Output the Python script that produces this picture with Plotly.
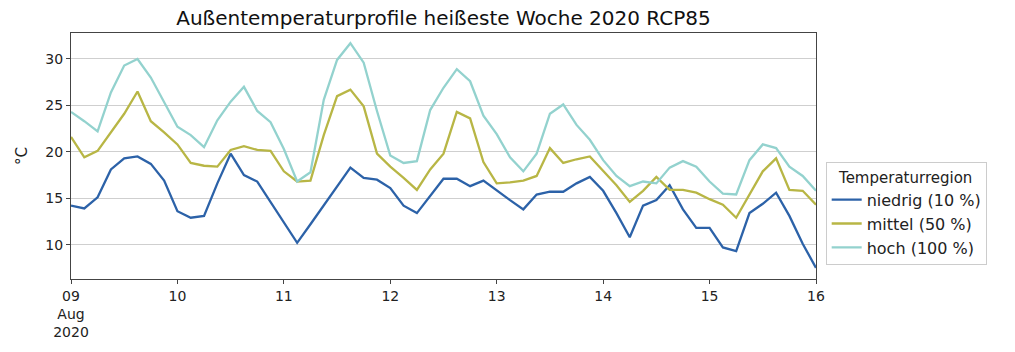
import plotly.graph_objects as go
import pandas as pd

times = pd.date_range("2020-08-09 00:00", "2020-08-16 00:00", freq="3h")

niedrig = [14.2, 13.9, 15.1, 18.1, 19.3, 19.5, 18.7, 16.9, 13.6, 12.9, 13.1, 16.6, 19.8, 17.5, 16.8,
           14.6, 12.4, 10.2, 12.2, 14.2, 16.2, 18.3, 17.2, 17.0, 16.1, 14.2, 13.4, 15.3, 17.1,
           17.1, 16.3, 16.9, 15.8, 14.8, 13.8, 15.4, 15.7, 15.7, 16.6, 17.3, 15.8, 13.4, 10.8,
           14.2, 14.8, 16.4, 13.8, 11.8, 11.8, 9.7, 9.3, 13.4, 14.4, 15.6, 13.1, 10.1, 7.5]
mittel = [21.6, 19.4, 20.1, 22.1, 24.1, 26.5, 23.3, 22.1, 20.8, 18.8, 18.5, 18.4, 20.2, 20.6, 20.2,
          20.1, 17.9, 16.8, 16.9, 21.8, 26.0, 26.7, 24.9, 19.8, 18.4, 17.2, 15.9, 18.1, 19.8,
          24.3, 23.6, 18.9, 16.6, 16.7, 16.9, 17.4, 20.4, 18.8, 19.2, 19.5, 17.9, 16.4, 14.6,
          15.8, 17.3, 15.9, 15.9, 15.6, 14.9, 14.3, 12.9, 15.4, 17.9, 19.3, 15.9, 15.8, 14.3]
hoch = [24.3, 23.3, 22.2, 26.4, 29.3, 30.0, 28.0, 25.3, 22.7, 21.8, 20.5, 23.4, 25.4, 27.0, 24.4,
        23.2, 20.3, 16.8, 17.8, 25.6, 29.9, 31.7, 29.6, 24.4, 19.6, 18.8, 19.0, 24.5, 26.9,
        28.9, 27.6, 23.9, 21.9, 19.4, 17.9, 19.8, 24.1, 25.1, 22.9, 21.3, 19.1, 17.4, 16.3,
        16.8, 16.6, 18.3, 19.0, 18.4, 16.8, 15.5, 15.4, 19.1, 20.8, 20.4, 18.4, 17.4, 15.8]

series = [("niedrig (10 %)", niedrig, "#2c62a8"),
          ("mittel (50 %)", mittel, "#b8b645"),
          ("hoch (100 %)", hoch, "#93d2ce")]

y_ticks = [10, 15, 20, 25, 30]
x_tick_vals = pd.date_range("2020-08-09", "2020-08-16", freq="D")
x_tick_text = ["09<br>Aug<br>2020", "10", "11", "12", "13", "14", "15", "16"]

fig = go.Figure()
for name, vals, col in series:
    fig.add_trace(go.Scatter(x=times, y=vals, mode="lines", name=name,
                             line=dict(color=col, width=2.3)))

font = "DejaVu Sans, Verdana, sans-serif"
fig.update_layout(
    width=1015, height=352,
    margin=dict(l=71, r=199, t=33, b=54),
    paper_bgcolor="white", plot_bgcolor="white",
    font=dict(family=font, size=14, color="#222"),
    title=dict(text="Außentemperaturprofile heißeste Woche 2020 RCP85",
               x=(71 + 816) / 2 / 1015, xanchor="center", y=0.95, yanchor="middle",
               font=dict(size=20, color="#111")),
    legend=dict(title=dict(text="Temperaturregion", side="top center",
                           font=dict(size=15)),
                x=1.013, xanchor="left", y=0.265, yanchor="middle",
                bordercolor="#cccccc", borderwidth=1, bgcolor="white",
                font=dict(size=16), tracegroupgap=0),
    showlegend=True,
)
fig.update_xaxes(range=[times[0], times[-1]], tickvals=x_tick_vals, ticktext=x_tick_text,
                 showgrid=False, showline=True, linecolor="#444", linewidth=1, mirror=True,
                 ticks="outside", ticklen=4, tickcolor="#444", tickangle=0,
                 tickfont=dict(size=14))
fig.update_yaxes(range=[6.3, 32.8], tickvals=y_ticks, showgrid=True, gridcolor="#cfcfcf",
                 gridwidth=1, showline=True, linecolor="#444", linewidth=1, mirror=True,
                 ticks="outside", ticklen=4, tickcolor="#444", zeroline=False,
                 tickfont=dict(size=14),
                 title=dict(text="°C", standoff=14, font=dict(size=15)))

fig.write_html("out.html")
